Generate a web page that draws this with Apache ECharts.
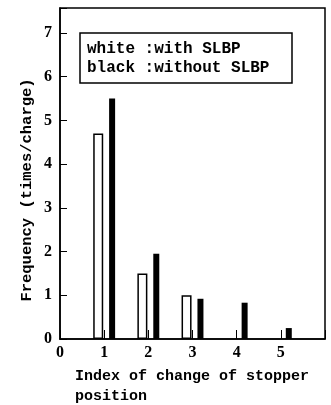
<!DOCTYPE html>
<html>
<head>
<meta charset="utf-8">
<script src="https://cdn.jsdelivr.net/npm/echarts@6/dist/echarts.min.js"></script>
<style>
  html, body { margin: 0; padding: 0; background: #fff; }
  #chart { width: 331px; height: 405px; }
</style>
</head>
<body>
<div id="chart"></div>
<script>
// index of change of stopper position
var categories = [1, 2, 3, 4, 5];
// frequency (times/charge)
var withSLBP = [4.7, 1.5, 1.0, 0, 0];        // white bars
var withoutSLBP = [5.5, 1.95, 0.92, 0.83, 0.25]; // black bars
var xTicks = [0, 1, 2, 3, 4, 5];
var yTicks = [0, 1, 2, 3, 4, 5, 6, 7];

var textFont = 'Liberation Mono';
var numFont = 'Liberation Serif';

function pairs(vals, shift) {
    var out = [];
    for (var i = 0; i < categories.length; i++) {
        if (vals[i] > 0) out.push([categories[i] + shift, vals[i]]);
    }
    return out;
}

var chart = echarts.init(document.getElementById('chart'));
var option = {
    animation: false,
    backgroundColor: '#fff',
    grid: {
        left: 60, right: 6, top: 8, bottom: 66,
        show: true, borderColor: '#000', borderWidth: 1.5
    },
    xAxis: {
        type: 'value',
        min: 0, max: 6, interval: 1,
        axisLine: { lineStyle: { color: '#000', width: 1.5 } },
        axisTick: { inside: true, length: 9, lineStyle: { color: '#000', width: 1 } },
        splitLine: { show: false },
        axisLabel: {
            margin: 6,
            color: '#000',
            fontFamily: numFont, fontSize: 16, fontWeight: 'bold',
            formatter: function (v) { return xTicks.indexOf(v) >= 0 ? String(v) : ''; }
        }
    },
    yAxis: {
        type: 'value',
        min: 0, max: 7.57, interval: 1,
        axisLine: { lineStyle: { color: '#000', width: 1.5 } },
        axisTick: { inside: true, length: 7, lineStyle: { color: '#000', width: 1 } },
        splitLine: { show: false },
        axisLabel: {
            margin: 8,
            color: '#000',
            fontFamily: numFont, fontSize: 16, fontWeight: 'bold',
            formatter: function (v) { return yTicks.indexOf(v) >= 0 ? String(v) : ''; }
        }
    },
    series: [
        {
            name: 'white',
            type: 'bar',
            barWidth: 10,
            barGap: '-100%',
            data: pairs(withSLBP, -0.18),
            itemStyle: { color: '#fff', borderColor: '#000', borderWidth: 1.5 }
        },
        {
            name: 'black',
            type: 'bar',
            barWidth: 6,
            barGap: '-100%',
            data: pairs(withoutSLBP, 0.18),
            itemStyle: { color: '#000' }
        }
    ],
    graphic: [
        {
            type: 'rect',
            shape: { x: 80, y: 33, width: 212, height: 50 },
            style: { fill: '#fff', stroke: '#000', lineWidth: 1.5 }
        },
        {
            type: 'text',
            x: 87, y: 39,
            style: {
                text: 'white :with SLBP\nblack :without SLBP',
                font: 'bold 16px "' + textFont + '"',
                lineHeight: 19,
                fill: '#000'
            }
        },
        {
            type: 'text',
            x: 27, y: 190,
            rotation: Math.PI / 2,
            style: {
                text: 'Frequency (times/charge)',
                font: 'bold 15.5px "' + textFont + '"',
                align: 'center', verticalAlign: 'middle',
                fill: '#000'
            }
        },
        {
            type: 'text',
            x: 75, y: 366,
            style: {
                text: 'Index of change of stopper\nposition',
                font: 'bold 15px "' + textFont + '"',
                lineHeight: 20,
                fill: '#000'
            }
        }
    ]
};
chart.setOption(option);
</script>
</body>
</html>
